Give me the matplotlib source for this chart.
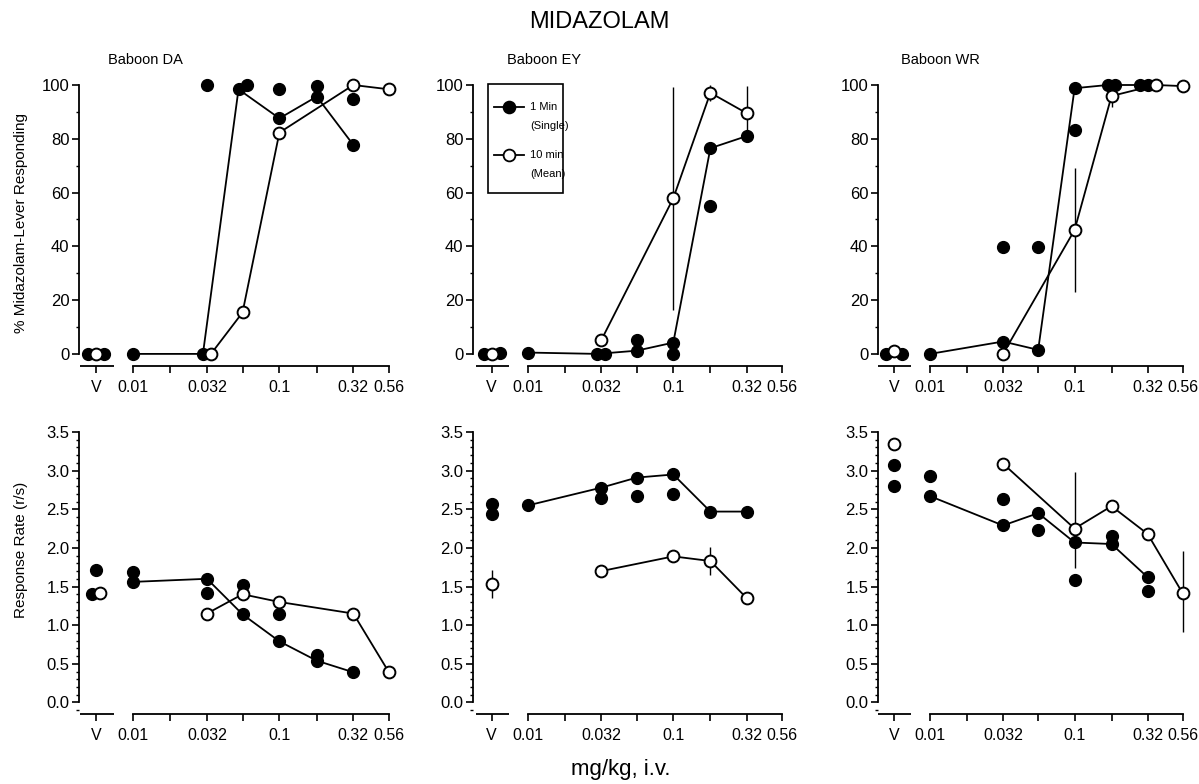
import numpy as np
import matplotlib.pyplot as plt
from matplotlib.ticker import MultipleLocator
from matplotlib.lines import Line2D
from matplotlib.patches import Rectangle

plt.rcParams['font.family'] = ['Liberation Sans', 'DejaVu Sans']

### doses (mg/kg) and x tick labels
dose_ticks = [0.01, 0.018, 0.032, 0.056, 0.1, 0.18, 0.32, 0.56]
dose_labels = ['0.01', '', '0.032', '', '0.1', '', '0.32', '0.56']
baboons = ['Baboon DA', 'Baboon EY', 'Baboon WR']

### % Midazolam-lever responding
# Baboon DA
da_pct_v_single = [0, 0]
da_pct_v_mean = [0]
da_pct_line_dose = [0.01, 0.032, 0.056, 0.1, 0.18, 0.32]
da_pct_line = [0, 0, 98.4, 87.6, 95.7, 77.7]
da_pct_extra_dose = [0.032, 0.056, 0.1, 0.18, 0.32]
da_pct_extra = [100, 100, 98.4, 99.6, 94.8]
da_pct_mean_dose = [0.032, 0.056, 0.1, 0.32, 0.56]
da_pct_mean = [0, 15.4, 82.3, 100, 98.4]
da_pct_err = [0, 0, 0, 0, 0]
# Baboon EY
ey_pct_v_single = [0, 0.5]
ey_pct_v_mean = [0]
ey_pct_line_dose = [0.01, 0.032, 0.056, 0.1, 0.18, 0.32]
ey_pct_line = [0.5, 0, 1.2, 4.2, 76.5, 81]
ey_pct_extra_dose = [0.032, 0.056, 0.1, 0.18]
ey_pct_extra = [0, 5.2, 0, 55]
ey_pct_mean_dose = [0.032, 0.1, 0.18, 0.32]
ey_pct_mean = [5.2, 57.9, 97.1, 89.5]
ey_pct_err = [0, 41.5, 3, 10]
# Baboon WR
wr_pct_v_single = [0, 0]
wr_pct_v_mean = [1.2]
wr_pct_line_dose = [0.01, 0.032, 0.056, 0.1, 0.18, 0.32]
wr_pct_line = [0, 4.6, 1.5, 98.8, 100, 100]
wr_pct_extra_dose = [0.032, 0.056, 0.1, 0.18, 0.32]
wr_pct_extra = [39.9, 39.9, 83.4, 100, 100]
wr_pct_mean_dose = [0.032, 0.1, 0.18, 0.32, 0.56]
wr_pct_mean = [0, 46.1, 95.9, 100, 99.6]
wr_pct_err = [0, 23, 4, 0, 0]

### Response rate (r/s)
# Baboon DA
da_rate_v_single = [1.40, 1.71]
da_rate_v_mean = [1.42]
da_rate_line_dose = [0.01, 0.032, 0.056, 0.1, 0.18, 0.32]
da_rate_line = [1.56, 1.60, 1.14, 0.79, 0.54, 0.39]
da_rate_extra_dose = [0.01, 0.032, 0.056, 0.1, 0.18]
da_rate_extra = [1.69, 1.42, 1.52, 1.14, 0.62]
da_rate_mean_dose = [0.032, 0.056, 0.1, 0.32, 0.56]
da_rate_mean = [1.15, 1.40, 1.30, 1.15, 0.39]
da_rate_err = [0, 0, 0, 0, 0]
# Baboon EY
ey_rate_v_single = [2.57, 2.44]
ey_rate_v_mean = [1.53]
ey_rate_v_err = [0.18]
ey_rate_line_dose = [0.01, 0.032, 0.056, 0.1, 0.18, 0.32]
ey_rate_line = [2.55, 2.78, 2.91, 2.95, 2.47, 2.47]
ey_rate_extra_dose = [0.032, 0.056, 0.1]
ey_rate_extra = [2.65, 2.67, 2.70]
ey_rate_mean_dose = [0.032, 0.1, 0.18, 0.32]
ey_rate_mean = [1.70, 1.89, 1.83, 1.35]
ey_rate_err = [0, 0, 0.18, 0]
# Baboon WR
wr_rate_v_single = [3.07, 2.80]
wr_rate_v_mean = [3.35]
wr_rate_line_dose = [0.01, 0.032, 0.056, 0.1, 0.18, 0.32]
wr_rate_line = [2.67, 2.29, 2.45, 2.07, 2.05, 1.62]
wr_rate_extra_dose = [0.01, 0.032, 0.056, 0.1, 0.18, 0.32]
wr_rate_extra = [2.93, 2.63, 2.23, 1.58, 2.16, 1.44]
wr_rate_mean_dose = [0.032, 0.1, 0.18, 0.32, 0.56]
wr_rate_mean = [3.09, 2.25, 2.54, 2.18, 1.41]
wr_rate_err_lo = [0, 0.51, 0, 0, 0.50]
wr_rate_err_hi = [0, 0.73, 0, 0, 0.55]

V_DOSE = 10 ** -2.25   # where the vehicle points sit on the log axis

panels = [
    # row 0
    dict(vs=da_pct_v_single, vm=da_pct_v_mean, vm_err=[0],
         ld=da_pct_line_dose, l=da_pct_line, ed=da_pct_extra_dose, e=da_pct_extra,
         md=da_pct_mean_dose, m=da_pct_mean, err=[da_pct_err, da_pct_err]),
    dict(vs=ey_pct_v_single, vm=ey_pct_v_mean, vm_err=[0],
         ld=ey_pct_line_dose, l=ey_pct_line, ed=ey_pct_extra_dose, e=ey_pct_extra,
         md=ey_pct_mean_dose, m=ey_pct_mean, err=[ey_pct_err, ey_pct_err]),
    dict(vs=wr_pct_v_single, vm=wr_pct_v_mean, vm_err=[0],
         ld=wr_pct_line_dose, l=wr_pct_line, ed=wr_pct_extra_dose, e=wr_pct_extra,
         md=wr_pct_mean_dose, m=wr_pct_mean, err=[wr_pct_err, wr_pct_err]),
    # row 1
    dict(vs=da_rate_v_single, vm=da_rate_v_mean, vm_err=[0],
         ld=da_rate_line_dose, l=da_rate_line, ed=da_rate_extra_dose, e=da_rate_extra,
         md=da_rate_mean_dose, m=da_rate_mean, err=[da_rate_err, da_rate_err]),
    dict(vs=ey_rate_v_single, vm=ey_rate_v_mean, vm_err=ey_rate_v_err,
         ld=ey_rate_line_dose, l=ey_rate_line, ed=ey_rate_extra_dose, e=ey_rate_extra,
         md=ey_rate_mean_dose, m=ey_rate_mean, err=[ey_rate_err, ey_rate_err]),
    dict(vs=wr_rate_v_single, vm=wr_rate_v_mean, vm_err=[0],
         ld=wr_rate_line_dose, l=wr_rate_line, ed=wr_rate_extra_dose, e=wr_rate_extra,
         md=wr_rate_mean_dose, m=wr_rate_mean, err=[wr_rate_err_lo, wr_rate_err_hi]),
]


def dodge(xs, ys, thr, step=0.055):
    # spread overlapping points at the same dose sideways (log units)
    off = [0.0] * len(xs)
    groups = {}
    for i, x in enumerate(xs):
        groups.setdefault(round(np.log10(x), 3), []).append(i)
    for idx in groups.values():
        clusters = []
        for i in sorted(idx, key=lambda k: ys[k]):
            if clusters and abs(ys[i] - ys[clusters[-1][-1]]) < thr:
                clusters[-1].append(i)
            else:
                clusters.append([i])
        for c in clusters:
            c = sorted(c)
            for k, i in enumerate(c):
                off[i] = (k - (len(c) - 1) / 2) * step
    return [x * 10 ** o for x, o in zip(xs, off)]


fig = plt.figure(figsize=(11.99, 7.84), dpi=100)
W, H = 1199, 784
# y-axis pixel position, pixel of the 0.01 tick, pixels per log10 unit
cols = [(79, 133, 146.4), (473, 528, 145.3), (878, 930, 144.6)]
XR = -0.2
rows = [dict(top=85, bot=366, ylim=(-4.5, 100), major=20, minor=10, fmt='{:.0f}'),
        dict(top=432, bot=714, ylim=(-0.15, 3.5), major=0.5, minor=0.1, fmt='{:.1f}')]

axes = []
for p, d in enumerate(panels):
    r = rows[p // 3]
    yax, x001, s = cols[p % 3]
    xl = -2 - (x001 - yax) / s
    ax = fig.add_axes([yax / W, 1 - r['bot'] / H, s * (XR - xl) / W, (r['bot'] - r['top']) / H])
    axes.append(ax)
    ax.set_xscale('log')
    ax.set_xlim(10 ** xl, 10 ** XR)
    ax.set_ylim(r['ylim'])
    thr = 0.02 * r['ylim'][1]

    # gather all points so overlapping ones can be dodged together
    xs = [V_DOSE] * (len(d['vs']) + len(d['vm']))
    ys = [d['vs'][0]] + list(d['vm']) + list(d['vs'][1:])
    nv = len(xs)
    xs += list(d['ld']) + list(d['ed']) + list(d['md'])
    ys += list(d['l']) + list(d['e']) + list(d['m'])
    xd = dodge(xs, ys, thr)
    v_single_x = [xd[0]] + xd[1 + len(d['vm']):nv]
    v_mean_x = xd[1:1 + len(d['vm'])]
    n1, n2 = len(d['ld']), len(d['ed'])
    lx = xd[nv:nv + n1]
    ex = xd[nv + n1:nv + n1 + n2]
    mx = xd[nv + n1 + n2:]

    ax.plot(lx, d['l'], color='black', lw=1.3, zorder=2, clip_on=False)
    ax.plot(mx, d['m'], color='black', lw=1.3, zorder=2, clip_on=False)
    ax.errorbar(mx, d['m'], yerr=d['err'], fmt='none', ecolor='black', elinewidth=1.0,
                capsize=0, zorder=3, clip_on=False)
    ax.errorbar(v_mean_x, d['vm'], yerr=d['vm_err'], fmt='none', ecolor='black',
                elinewidth=1.0, capsize=0, zorder=3, clip_on=False)
    filled = dict(marker='o', ls='none', ms=8.5, mfc='black', mec='black', mew=1.0,
                  zorder=4, clip_on=False)
    hollow = dict(marker='o', ls='none', ms=8.5, mfc='white', mec='black', mew=1.4,
                  zorder=5, clip_on=False)
    ax.plot(lx, d['l'], **filled)
    ax.plot(ex, d['e'], **filled)
    ax.plot(v_single_x, d['vs'], **filled)
    ax.plot(mx, d['m'], **hollow)
    ax.plot(v_mean_x, d['vm'], **hollow)

    # axes styling
    for sp in ['top', 'right']:
        ax.spines[sp].set_visible(False)
    ax.spines['left'].set_bounds(0, r['ylim'][1])
    ax.spines['bottom'].set_bounds(dose_ticks[0], dose_ticks[-1])
    for sp in ['left', 'bottom']:
        ax.spines[sp].set_linewidth(1.3)
    # separate short axis piece for the vehicle
    ax.plot([10 ** -2.36, 10 ** -2.13], [r['ylim'][0]] * 2, color='black', lw=1.3,
            clip_on=False, zorder=1, solid_capstyle='butt')
    ax.set_xticks([V_DOSE] + dose_ticks)
    ax.set_xticklabels(['V'] + dose_labels)
    ax.xaxis.set_minor_locator(plt.NullLocator())
    yt = np.arange(0, r['ylim'][1] + 1e-9, r['major'])
    ax.set_yticks(yt)
    ax.set_yticklabels([r['fmt'].format(v) for v in yt])
    ax.yaxis.set_minor_locator(MultipleLocator(r['minor']))
    ax.tick_params(axis='both', which='major', direction='out', length=5, width=1.2,
                   color='black')
    ax.tick_params(axis='x', pad=5, labelsize=11.5)
    ax.tick_params(axis='y', pad=2, labelsize=12)
    ax.tick_params(axis='y', which='minor', direction='out', length=2.5, width=1.0)

# legend drawn inside the Baboon EY top panel
lax = axes[1]
lax.add_patch(Rectangle((0.047, 0.615), 0.236, 0.39, transform=lax.transAxes,
                        fill=False, ec='black', lw=1.2, clip_on=False, zorder=6))
for yy, mfc, l1, l2 in [(0.922, 'black', '1 Min', '(Single)'),
                        (0.751, 'white', '10 min', '(Mean)')]:
    lax.add_line(Line2D([0.065, 0.16], [yy, yy], transform=lax.transAxes, color='black',
                        lw=1.3, zorder=6))
    lax.add_line(Line2D([0.1125], [yy], transform=lax.transAxes, marker='o', ms=8.5,
                        mfc=mfc, mec='black', mew=1.3, ls='none', zorder=7))
    lax.text(0.18, yy, l1, transform=lax.transAxes, fontsize=8, va='center', ha='left')
    lax.text(0.18, yy - 0.068, l2, transform=lax.transAxes, fontsize=8, va='center', ha='left')

fig.text(599 / W, 1 - 22 / H, 'MIDAZOLAM', fontsize=17, ha='center', va='center')
for x, name in zip([145, 544, 940], baboons):
    fig.text(x / W, 1 - 60 / H, name, fontsize=10.5, ha='center', va='center')
fig.text(21 / W, 1 - 223 / H, '% Midazolam-Lever Responding', fontsize=11, rotation=90,
         ha='center', va='center')
fig.text(21 / W, 1 - 550 / H, 'Response Rate (r/s)', fontsize=11, rotation=90,
         ha='center', va='center')
fig.text(621 / W, 1 - 770 / H, 'mg/kg, i.v.', fontsize=16, ha='center', va='center')

plt.savefig('out.png', dpi=100)
